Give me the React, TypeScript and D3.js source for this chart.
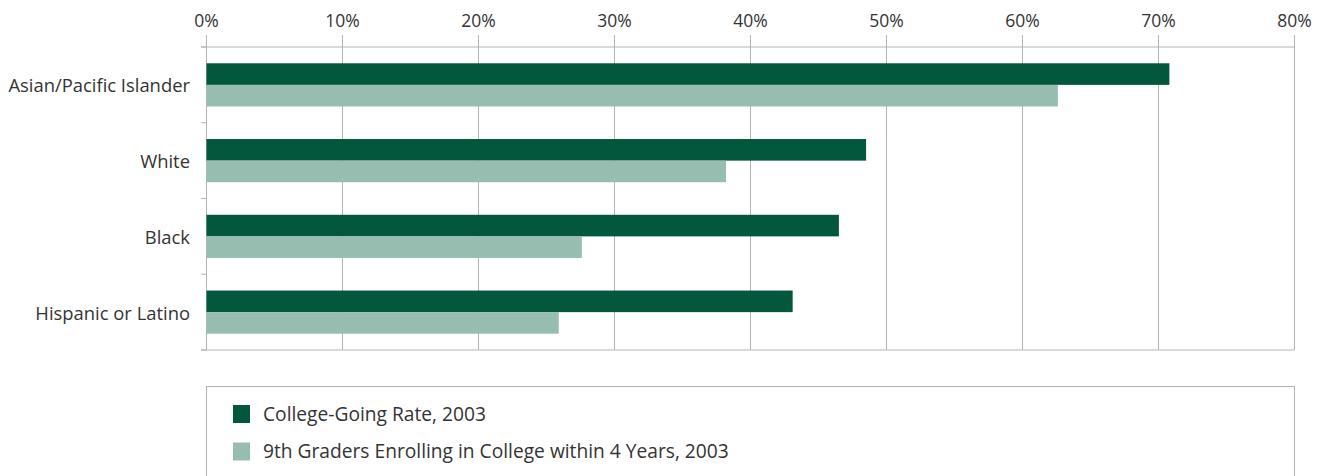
import React from "react";
import * as d3 from "d3";

const categories = ["Asian/Pacific Islander", "White", "Black", "Hispanic or Latino"];
const seriesNames = ["College-Going Rate, 2003", "9th Graders Enrolling in College within 4 Years, 2003"];
const collegeGoing = [70.8, 48.5, 46.5, 43.1];
const ninthGraders = [62.6, 38.2, 27.6, 25.9];
const xTicks = [0, 10, 20, 30, 40, 50, 60, 70, 80];
const colors = ["#03573c", "#97bdb1"];

const W = 1329;
const H = 476;
const FONT = "'Open Sans', 'Noto Sans', sans-serif";
const TEXT = "#333333";
const GRID = "#b3b3b3";

export default function App() {
  const left = 206.5;
  const right = 1294.5;
  const top = 47;
  const bottom = 350;
  const x = d3.scaleLinear().domain([0, 80]).range([left, right]);
  const y = d3.scaleBand<string>().domain(categories).range([top, bottom]).paddingInner(0.43).paddingOuter(0.215);
  const series = [collegeGoing, ninthGraders];
  const bw = y.bandwidth() / 2;

  return (
    <svg width={W} height={H} style={{ position: "absolute", left: 0, top: 0, display: "block", background: "#fff" }} fontFamily={FONT}>
      {xTicks.map((t) => (
        <g key={t}>
          <line x1={x(t)} x2={x(t)} y1={35} y2={bottom} stroke={GRID} strokeWidth={1} />
          <text x={x(t)} y={27} textAnchor="middle" fontSize={17.5} fill={TEXT}>{t}%</text>
        </g>
      ))}
      <line x1={201} x2={right} y1={top} y2={top} stroke={GRID} strokeWidth={1} />
      <line x1={201} x2={right} y1={bottom} y2={bottom} stroke={GRID} strokeWidth={1} />
      {d3.range(categories.length + 1).map((i) => {
        const yy = top + ((bottom - top) / categories.length) * i;
        return <line key={i} x1={201} x2={left} y1={yy} y2={yy} stroke={GRID} strokeWidth={1} />;
      })}
      {categories.map((c, i) => (
        <g key={c}>
          {series.map((s, k) => (
            <rect key={k} x={x(0)} y={(y(c) as number) + k * bw} width={x(s[i]) - x(0)} height={bw} fill={colors[k]} />
          ))}
          <text x={190} y={(y(c) as number) + bw + 1} dy="0.35em" textAnchor="end" fontSize={18.4} fill={TEXT}>{c}</text>
        </g>
      ))}
      <rect x={206.5} y={386.5} width={1088} height={100} fill="none" stroke={GRID} strokeWidth={1} />
      {seriesNames.map((n, k) => (
        <g key={n}>
          <rect x={233} y={405 + k * 37.5} width={17} height={18} fill={colors[k]} />
          <text x={263} y={414 + k * 37.5} dy="0.35em" fontSize={19.2} fill={TEXT}>{n}</text>
        </g>
      ))}
    </svg>
  );
}
